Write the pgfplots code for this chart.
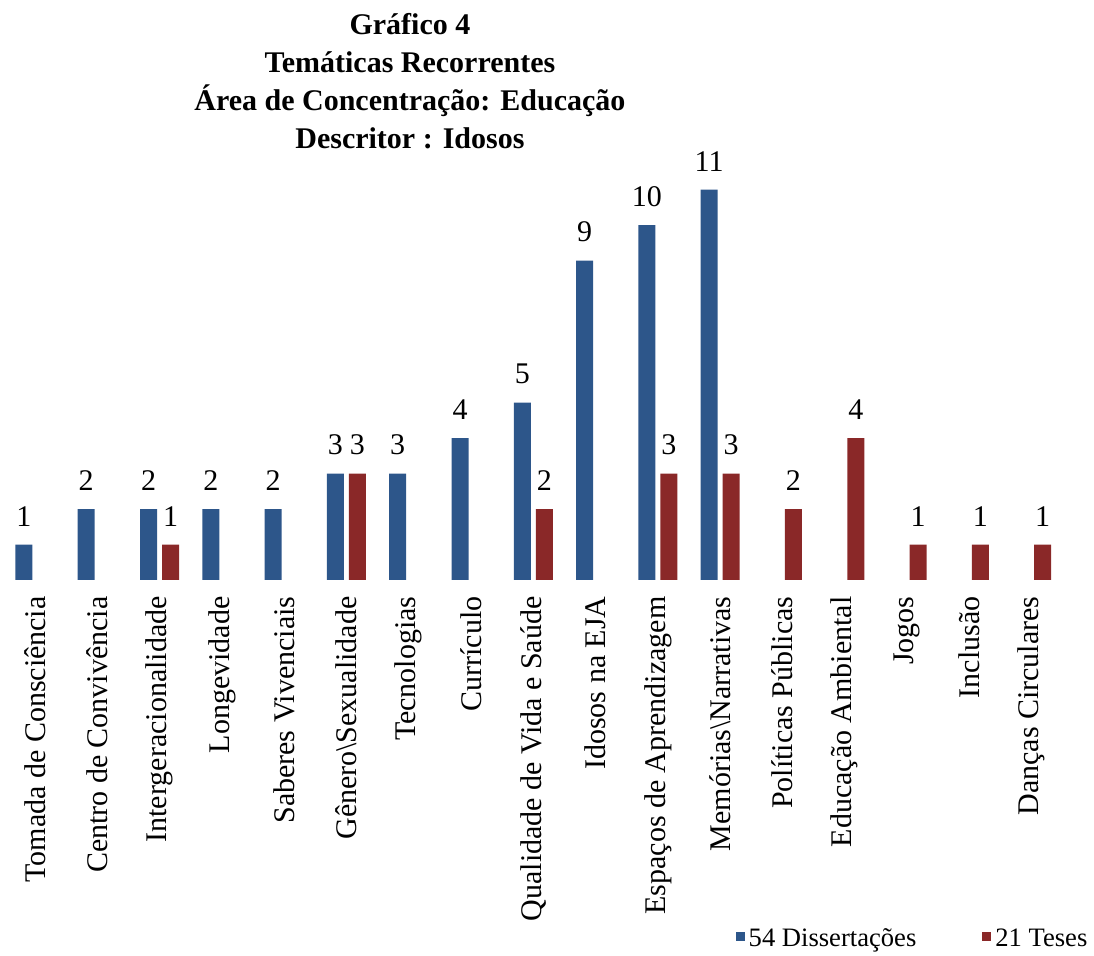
\documentclass[border=0pt]{standalone}
\usepackage{pgfplots}
\pgfplotsset{compat=1.18}
\usepackage{fontspec}
\setmainfont{Liberation Serif}

\definecolor{dissblue}{RGB}{45,86,138}
\definecolor{teseRed}{RGB}{138,40,40}

\begin{document}
\begin{tikzpicture}
\begin{axis}[
    name=ax,
    scale only axis,
    width=529.5pt, height=204pt,
    xmin=-0.5, xmax=16.5,
    ymin=0, ymax=11.5,
    axis line style={draw=none},
    major tick length=0pt,
    ytick=\empty,
    xtick={0,...,16},
    xticklabels={Tomada de Consciência, Centro de Convivência, Intergeracionalidade,
        Longevidade, Saberes Vivenciais, Gênero\textbackslash Sexualidade, Tecnologias,
        Currículo, Qualidade de Vida e Saúde, Idosos na EJA, Espaços de Aprendizagem,
        Memórias\textbackslash Narrativas, Políticas Públicas, Educação Ambiental,
        Jogos, Inclusão, Danças Circulares},
    xticklabel style={rotate=90, anchor=east, inner sep=0pt, font=\fontsize{15}{17}\selectfont},
    xticklabel shift=8pt,
    /pgf/number format/assume math mode=true,
    nodes near coords,
    every node near coord/.append style={font=\fontsize{15}{17}\selectfont, anchor=south, inner sep=0pt, yshift=9pt},
    clip=false,
    legend columns=2,
    legend style={draw=none, at={(1.033,-0.88)}, anchor=east,
        font=\fontsize{13.3}{16}\selectfont,
        /tikz/every even column/.append style={column sep=31pt}},
    legend image code/.code={\fill[#1,/tikz/.cd,draw=none,yshift=-0.1em] (0pt,0pt) rectangle (4.5pt,4.5pt);},
]
% 54 Dissertações
\addplot[ybar, bar width=8.5pt, bar shift=-5.5pt, fill=dissblue, draw=none,
    every node near coord/.append style={xshift=-5.5pt}]
coordinates {
    (0,1) (1,2) (2,2) (3,2) (4,2) (5,3) (6,3) (7,4) (8,5) (9,9) (10,10) (11,11)
};
\addlegendentry{54 Dissertações}
% 21 Teses
\addplot[ybar, bar width=8.5pt, bar shift=5.5pt, fill=teseRed, draw=none,
    every node near coord/.append style={xshift=5.5pt}]
coordinates {
    (2,1) (5,3) (8,2) (10,3) (11,3) (12,2) (13,4) (14,1) (15,1) (16,1)
};
\addlegendentry{21 Teses}

\node[align=center, font=\fontsize{15}{18.9}\selectfont\bfseries]
    at (rel axis cs:0.3835,1.223)
    {Gráfico 4\\Temáticas Recorrentes\\Área de Concentração: Educação\\Descritor : Idosos};
\end{axis}
\pgfresetboundingbox
\path ([shift={(-1.9pt,-188pt)}]ax.south west) rectangle ++(547pt,478pt);
\end{tikzpicture}
\end{document}
